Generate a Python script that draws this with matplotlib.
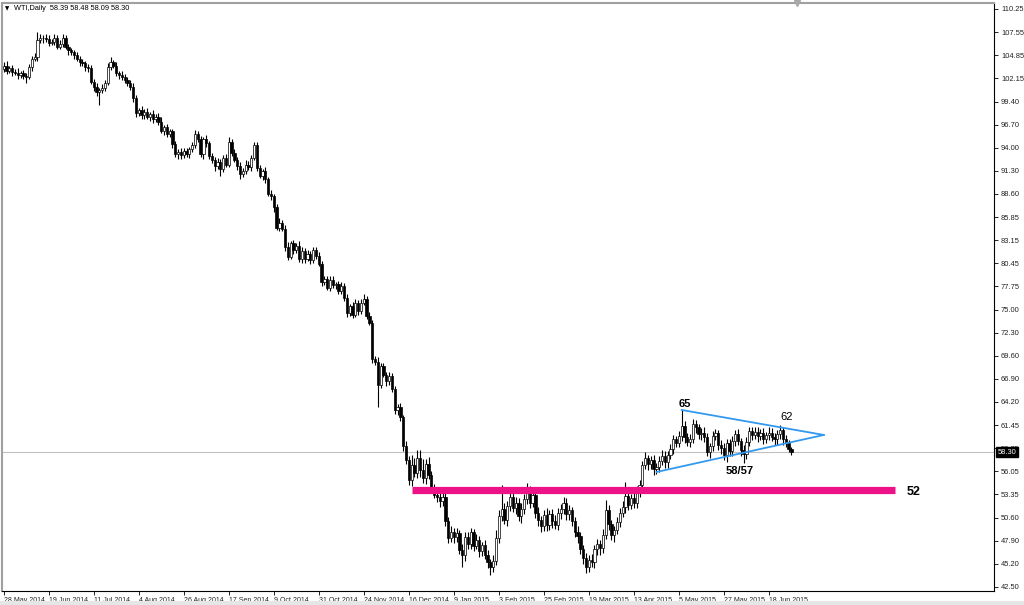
import matplotlib
matplotlib.use("Agg")
import matplotlib.pyplot as plt
from matplotlib import transforms
from matplotlib.patches import Rectangle

# daily closes of WTI (28 May 2014 .. end of Jun 2015)
closes = [
    103.6, 103.0, 103.3, 102.9, 102.8, 102.5, 102.7, 102.4, 102.3, 103.4,
    104.4, 104.6, 106.6, 106.8, 106.9, 106.7, 106.3, 106.4, 106.9, 105.8,
    106.2, 106.85, 105.8, 105.4, 105.2, 104.8, 104.4, 104.0, 103.9, 103.5,
    103.3, 101.7, 101.1, 100.5, 100.7, 101.0, 101.6, 103.5, 104.0, 103.6,
    102.7, 102.5, 102.3, 101.9, 101.6, 101.1, 99.8, 98.0, 98.4, 97.8,
    98.2, 97.6, 97.9, 97.3, 97.6, 97.0, 96.0, 96.4, 95.6, 95.9,
    94.4, 93.2, 93.5, 93.1, 93.6, 93.3, 93.8, 94.3, 95.6, 95.0,
    93.2, 95.0, 94.5, 93.0, 92.6, 91.8, 92.3, 91.5, 92.8, 92.0,
    94.7, 93.4, 92.6, 91.9, 90.9, 91.3, 92.0, 91.7, 92.8, 94.3,
    91.6, 90.7, 91.2, 90.3, 88.6, 88.3, 87.0, 84.6, 85.2, 84.5,
    82.4, 81.2, 82.8, 82.0, 82.5, 80.9, 81.9, 81.0, 81.5, 80.8,
    82.0, 81.3, 80.4, 78.3, 78.6, 77.6, 78.5, 77.9, 78.0, 77.2,
    77.8, 76.4, 74.6, 75.4, 74.4, 75.8, 74.9, 75.8, 76.3, 74.3,
    73.5, 69.2, 68.9, 66.2, 68.4, 67.4, 66.6, 67.2, 65.7, 63.2,
    63.6, 62.4, 59.0, 57.4, 55.0, 56.8, 55.9, 57.6, 56.2, 55.3,
    56.9, 55.6, 54.2, 53.3, 53.0, 52.6, 53.1, 50.2, 48.2, 48.9,
    48.4, 48.8, 46.8, 46.3, 48.4, 47.5, 48.9, 47.3, 48.0, 46.7,
    47.4, 46.3, 45.4, 44.8, 45.6, 48.3, 50.8, 51.6, 50.4, 52.0,
    53.1, 51.8, 52.4, 50.8, 51.6, 52.8, 53.5, 52.4, 53.3, 51.2,
    50.3, 49.6, 50.9, 49.8, 51.0, 50.2, 49.8, 51.2, 51.6, 52.4,
    51.0, 51.5, 50.2, 49.0, 48.5, 47.0, 45.9, 44.9, 45.7, 45.4,
    46.9, 47.5, 47.1, 48.6, 51.5, 49.9, 48.6, 49.2, 50.1, 51.2,
    51.9, 53.2, 52.1, 52.9, 52.4, 53.9, 54.4, 56.8, 57.6, 56.9,
    57.4, 56.3, 56.6, 57.3, 57.9, 57.1, 58.0, 58.7, 59.8, 59.4,
    60.2, 61.4, 60.1, 59.5, 59.9, 61.6, 61.2, 60.4, 60.6, 60.1,
    58.3, 59.0, 60.2, 60.5, 59.2, 58.8, 58.0, 59.4, 58.4, 59.6,
    60.4, 59.6, 58.6, 58.1, 59.5, 60.8, 60.3, 60.7, 60.2, 60.6,
    59.9, 60.3, 60.6, 60.1, 59.8, 60.4, 60.9, 59.8, 59.4, 58.7,
    58.3,
]
first_open = 103.2

# wick lengths above / below the body
wick_up = [
    .4, .5, .3, .4, .3, .5, .3, .4, .3, .4,
    .3, .5, .9, .5, .3, .4, .5, .3, .4, .3,
    .4, .5, .3, .4, .3, .2, .4, .3, .4, .3,
    .3, .4, .3, .5, .3, .4, .3, .4, .6, .3,
    .4, .3, .5, .3, .4, .3, .5, .4, .3, .5,
    .3, .4, .3, .5, .3, .4, .6, .3, .4, .3,
    .3, .4, .3, .5, .3, .4, .3, .4, .5, .3,
    .4, .3, .5, .3, .4, .3, .5, .4, .3, .4,
    .5, .3, .4, .3, .4, .3, .5, .4, .3, .4,
    .3, .4, .3, .5, .3, .4, .3, .4, .5, .3,
    .4, .5, .3, .4, .3, .5, .4, .3, .5, .4,
    .3, .4, .5, .3, .4, .3, .5, .4, .3, .4,
    .5, .3, .4, .3, .5, .4, .3, .4, .5, .3,
    .4, .3, .4, .5, .3, .4, .3, .5, .4, .3,
    .4, .5, .3, .6, .4, 1.2, .8, 1.0, .9, 1.3,
    .6, .8, .5, .4, .7, .5, .6, .4, .5, .7,
    .5, .6, .4, .7, .5, .6, .5, .4, .7, .5,
    .4, .6, .5, .4, .7, .9, .7, 2.9, .8, .6,
    .8, .7, .6, .5, .7, .6, 1.2, .8, .6, .5,
    .7, .5, .6, .8, .5, .6, .7, .5, .6, .6,
    .5, .6, .4, .5, .6, .5, .4, .6, .5, .7,
    .5, .6, .5, .7, 1.2, .6, .5, .4, .6, .5,
    .7, 1.6, .6, .5, .7, .4, .6, .5, .7, .4,
    .5, .6, .4, .5, .7, .5, .4, .6, .5, .4,
    .6, 1.85, .6, .4, .5, .6, .5, .4, .5, .6,
    .5, .4, .6, .5, .4, .5, .6, .4, .5, .6,
    .5, .6, .4, .5, .6, .5, .4, .5, .6, .4,
    .5, .4, .6, .5, .4, .5, .6, .4, .5, .3,
    .2,
]
wick_dn = [
    .3, .4, .3, .5, .3, .4, .3, .4, .7, .3,
    .4, .3, .4, .3, .5, .3, .4, .3, .4, .3,
    .3, .4, .3, .5, .3, .4, .3, .4, .3, .5,
    .4, .3, .5, .4, 1.5, .3, .4, .3, .4, .3,
    .3, .5, .4, .3, .4, .3, .5, .4, .3, .4,
    .4, .3, .5, .4, .3, .4, .3, .5, .4, .3,
    .4, .3, .5, .4, .3, .4, .5, .3, .4, .3,
    .3, .5, .4, .3, .4, .6, .3, .8, .4, .3,
    .3, .4, .3, .5, .6, .3, .4, .3, .5, .3,
    .4, .3, .5, .4, .3, .4, .5, .3, .4, .3,
    .5, .4, .3, .5, .4, .3, .4, .5, .3, .4,
    .3, .4, .3, .5, .4, .3, .4, .3, .5, .4,
    .3, .4, .5, .3, .4, .3, .5, .4, .3, .4,
    .3, .5, .4, 2.6, .4, .3, .5, .4, .3, .4,
    .5, .4, .6, .5, .6, .7, .5, .6, .8, .6,
    .7, .5, .6, .4, .5, .7, .6, .5, .6, .4,
    .7, .6, .4, 1.5, .7, .6, .5, .6, .4, .7,
    .6, .5, .7, .9, .6, .5, .7, .6, .5, .8,
    .6, .5, .7, .6, .8, .5, .6, .7, .5, .6,
    .7, .6, .5, .7, .6, .8, .5, .6, .7, .5,
    .6, .7, .5, .6, .8, .6, .7, .8, .6, .5,
    .7, .6, .8, .6, .5, .7, .6, .8, .5, .6,
    .5, .7, .6, .5, .7, .6, .8, .6, .5, .7,
    .6, .7, .5, .6, .5, .7, .6, .5, .6, .5,
    .5, .6, .7, .5, .6, .5, .6, .5, .7, .6,
    .5, .7, .6, .5, .6, .7, .6, .8, .5, .6,
    .6, .5, .7, 1.1, .6, .5, .6, .5, .7, .5,
    .6, .5, .6, .5, .7, .6, .5, .6, .5, .4,
    .3,
]

date_labels = ["28 May 2014", "19 Jun 2014", "11 Jul 2014", "4 Aug 2014",
               "26 Aug 2014", "17 Sep 2014", "9 Oct 2014", "31 Oct 2014",
               "24 Nov 2014", "16 Dec 2014", "9 Jan 2015", "3 Feb 2015",
               "25 Feb 2015", "19 Mar 2015", "13 Apr 2015", "5 May 2015",
               "27 May 2015", "18 Jun 2015"]
price_ticks = [110.25, 107.55, 104.85, 102.15, 99.40, 96.70, 94.00, 91.30,
               88.60, 85.85, 83.15, 80.45, 77.75, 75.00, 72.30, 69.60, 66.90,
               64.20, 61.45, 58.75, 56.05, 53.35, 50.60, 47.90, 45.20, 42.50]

last_price = 58.30
support_level = 53.87          # pink line, labelled "52"
support_span = [145, 316.7]    # bar index start / end
tri_upper = [[241.0, 291.5], [63.25, 60.32]]
tri_lower = [[232.1, 291.5], [55.98, 60.32]]

opens = [first_open] + closes[:-1]
idx = list(range(len(closes)))
body_lo = [min(o, c) for o, c in zip(opens, closes)]
body_hi = [max(o, c) for o, c in zip(opens, closes)]
highs = [b + w for b, w in zip(body_hi, wick_up)]
lows = [b - w for b, w in zip(body_lo, wick_dn)]
heights = [max(h - l, 0.06) for h, l in zip(body_hi, body_lo)]
colors = ["white" if c >= o else "black" for o, c in zip(opens, closes)]

fig = plt.figure(figsize=(10.24, 6.05), dpi=100)
ax = fig.add_axes([2 / 1024, 14 / 605, 992 / 1024, 588 / 605])
font = "Liberation Sans"

ax.axhline(last_price, color="#c0c0c0", linewidth=0.8, zorder=1)
ax.vlines(idx, lows, highs, color="black", linewidth=0.8, zorder=2)
ax.bar(idx, heights, bottom=body_lo, width=0.8, color=colors,
       edgecolor="black", linewidth=0.5, zorder=3)

# support line and triangle
ax.plot(support_span, [support_level, support_level], color="#ee1289",
        linewidth=5.2, solid_capstyle="butt", zorder=4)
ax.plot(tri_upper[0], tri_upper[1], color="#3399ee", linewidth=1.3, zorder=5)
ax.plot(tri_lower[0], tri_lower[1], color="#3399ee", linewidth=1.3, zorder=5)

ax.text(242, 63.95, "65", fontsize=8, fontweight="bold", ha="center",
        va="center", family=font)
ax.text(261.6, 56.1, "58/57", fontsize=8, fontweight="bold", ha="center",
        va="center", family=font)
ax.text(278.3, 62.4, "62", fontsize=8, ha="center", va="center", family=font)
ax.text(323.5, 53.6, "52", fontsize=9, fontweight="bold", ha="center",
        va="center", family=font)

ax.set_xlim(-0.6, 352.0)
ax.set_ylim(42.03, 110.95)

ax.set_xticks(range(0, 16 * len(date_labels), 16))
ax.set_xticklabels(date_labels, fontsize=5.0, family=font, ha="left",
                   color="#222222")
ax.set_yticks(price_ticks)
ax.set_yticklabels(["%.2f" % v for v in price_ticks], fontsize=5.4,
                   family=font, color="#222222")
ax.yaxis.tick_right()
ax.tick_params(axis="x", direction="out", length=3, width=0.6, pad=1.5)
ax.tick_params(axis="y", direction="out", length=3, width=0.6, pad=2)

for side in ["top", "left"]:
    ax.spines[side].set_color("#a0a0a0")
    ax.spines[side].set_linewidth(1.5)
for side in ["right", "bottom"]:
    ax.spines[side].set_color("black")
    ax.spines[side].set_linewidth(0.8)

# current price box on the price scale (covers the 58.75 label as in MT4)
trans = transforms.blended_transform_factory(ax.transAxes, ax.transData)
ax.text(1.0035, last_price, "58.30", transform=trans, fontsize=5.4,
        color="white", family=font, va="center", ha="left", zorder=10,
        bbox=dict(facecolor="black", edgecolor="black", pad=1.0))

# shift marker at top
ax.plot([282], [110.95], marker="v", markersize=4, color="#a8a8a8",
        clip_on=False, zorder=10)

fig.text(5 / 1024, 1 - 9 / 605, "\u25bc", fontsize=4, va="center",
         family="DejaVu Sans")
fig.text(14 / 1024, 1 - 9 / 605, "WTI,Daily  58.39 58.48 58.09 58.30",
         fontsize=5.3, va="center", family=font)
fig.patches.append(Rectangle((0, 0), 1, 4 / 605, transform=fig.transFigure,
                             facecolor="#e6e6e6", edgecolor="none"))

fig.savefig("out.png", dpi=100)
